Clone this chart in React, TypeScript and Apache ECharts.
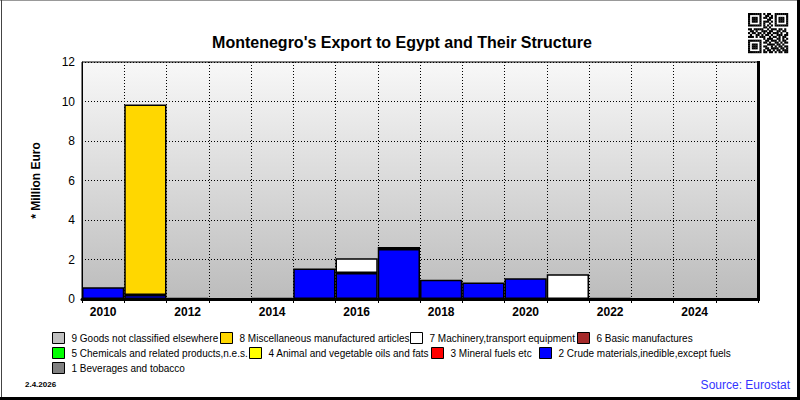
import React, { useEffect, useRef } from "react";
import * as echarts from "echarts";

const years = ["2010", "2011", "2012", "2013", "2014", "2015", "2016", "2017", "2018", "2019", "2020", "2021", "2022", "2023", "2024", "2025"];

// Stack order: bottom (1) to top (9)
const s1 = [0, 0, 0, 0, 0, 0, 0, 0, 0, 0, 0, 0, 0, 0, 0, 0];
const s2 = [0.6, 0.2, 0.06, 0, 0.06, 1.55, 1.32, 2.53, 0.98, 0.83, 1.05, 0, 0.06, 0, 0, 0];
const s3 = [0, 0, 0, 0, 0, 0, 0, 0, 0, 0, 0, 0, 0, 0, 0, 0];
const s4 = [0, 0, 0, 0, 0, 0, 0, 0, 0, 0, 0, 0, 0, 0, 0, 0];
const s5 = [0, 0, 0, 0, 0, 0, 0, 0, 0, 0, 0, 0, 0, 0, 0, 0];
const s6 = [0, 0, 0, 0, 0, 0, 0, 0, 0, 0, 0, 0, 0, 0, 0, 0];
const s7 = [0, 0, 0, 0, 0, 0, 0.74, 0.1, 0, 0, 0, 1.25, 0, 0, 0, 0];
const s8 = [0, 9.65, 0, 0, 0, 0, 0, 0, 0, 0, 0, 0, 0, 0, 0, 0];
const s9 = [0, 0, 0, 0, 0, 0, 0, 0, 0, 0, 0, 0, 0, 0, 0, 0];

const seriesNames = [
  "1 Beverages and tobacco",
  "2 Crude materials,inedible,except fuels",
  "3 Mineral fuels etc",
  "4 Animal and vegetable oils and fats",
  "5 Chemicals and related products,n.e.s.",
  "6 Basic manufactures",
  "7 Machinery,transport equipment",
  "8 Miscellaneous manufactured articles",
  "9 Goods not classified elsewhere",
];
const seriesColors = ["#808080", "#0000ff", "#ff0000", "#ffff00", "#00ff00", "#a52a2a", "#ffffff", "#ffd700", "#c0c0c0"];
const seriesValues = [s1, s2, s3, s4, s5, s6, s7, s8, s9];

const yTicks = { min: 0, max: 12, interval: 2 };

// Legend placement (index into seriesNames, left, top)
const legendLayout: [number, number, number][] = [
  [8, 52, 332], [7, 220, 332], [6, 410, 332], [5, 577, 332],
  [4, 52, 347], [3, 249, 347], [2, 431, 347], [1, 539, 347],
  [0, 52, 362],
];

const qrRows = [
  "111111101011001111111",
  "100000100110101000001",
  "101110101101101011101",
  "101110100011001011101",
  "101110101110101011101",
  "100000101001001000001",
  "111111101010101111111",
  "000000001101000000000",
  "110111110010111011010",
  "011010011101100110110",
  "101101101011011101001",
  "010011010110100111011",
  "111010111001011010110",
  "000000001011100110101",
  "111111100110111010110",
  "100000101101001101011",
  "101110100011110110100",
  "101110101100101011011",
  "101110100110111101101",
  "100000101011010110111",
  "111111101101101011011",
];

const FONT = 'Arial, "Liberation Sans", sans-serif';

export default function App() {
  const ref = useRef<HTMLDivElement>(null);
  useEffect(() => {
    if (!ref.current) return;
    const chart = echarts.init(ref.current, null, { renderer: "svg" });

    const qrEls: any[] = [];
    const mod = 40 / 21;
    qrRows.forEach((row, r) => {
      for (let c = 0; c < row.length; c++) {
        if (row[c] === "1") {
          qrEls.push({
            type: "rect",
            shape: { x: 748 + c * mod, y: 13 + r * mod, width: mod + 0.2, height: mod + 0.2 },
            style: { fill: "#000" },
            silent: true,
          });
        }
      }
    });

    const option: any = {
      animation: false,
      backgroundColor: "#ffffff",
      title: {
        text: "Montenegro's Export to Egypt and Their Structure",
        left: 397,
        textAlign: "center",
        top: 29,
        textStyle: { fontFamily: FONT, fontSize: 16, fontWeight: "bold", color: "#000" },
      },
      grid: {
        left: 82,
        right: 42,
        top: 62,
        bottom: 101,
        show: true,
        borderColor: "#000",
        borderWidth: 1,
        backgroundColor: new echarts.graphic.LinearGradient(0, 0, 0, 1, [
          { offset: 0, color: "#f8f8f8" },
          { offset: 1, color: "#bcbcbc" },
        ]),
      },
      legend: legendLayout.map(([idx, left, top]) => ({
        data: [seriesNames[idx]],
        left,
        top,
        padding: 0,
        itemWidth: 12,
        itemHeight: 11,
        icon: "rect",
        selectedMode: false,
        itemStyle: { borderColor: "#000", borderWidth: 1 },
        textStyle: { fontFamily: FONT, fontSize: 10, color: "#000", padding: [0, 0, 0, 2] },
      })),
      xAxis: {
        type: "category",
        data: years,
        boundaryGap: true,
        axisLine: { show: true, lineStyle: { color: "#000", width: 3 } },
        axisTick: { show: true, interval: 0, length: 4, lineStyle: { color: "#000" } },
        axisLabel: { interval: 1, margin: 7, fontFamily: FONT, fontSize: 12, fontWeight: "bold", color: "#000" },
        splitLine: { show: true, interval: 0, lineStyle: { color: "#000", type: [1, 2], width: 1 } },
      },
      yAxis: {
        type: "value",
        min: yTicks.min,
        max: yTicks.max,
        interval: yTicks.interval,
        name: "* Million Euro",
        nameLocation: "middle",
        nameRotate: 90,
        nameGap: 40,
        nameTextStyle: { fontFamily: FONT, fontSize: 12, fontWeight: "bold", color: "#000" },
        axisLine: { show: true, lineStyle: { color: "#000", width: 1 } },
        axisTick: { show: false },
        axisLabel: { margin: 7, fontFamily: FONT, fontSize: 12, color: "#000" },
        splitLine: { show: true, lineStyle: { color: "#000", type: [1, 2], width: 1 } },
      },
      series: seriesValues.map((vals, i) => ({
        name: seriesNames[i],
        type: "bar",
        stack: "total",
        barCategoryGap: 0,
        data: vals.map((v) => (v === 0 ? null : v)),
        itemStyle: { color: seriesColors[i], borderColor: "#000", borderWidth: 1.5 },
        emphasis: { disabled: true },
      })),
      graphic: [
        // thick right edge of plot
        { type: "rect", shape: { x: 757, y: 61, width: 3, height: 240 }, style: { fill: "#000" }, silent: true, z: 10 },
        // outer frame
        { type: "line", shape: { x1: 0, y1: 0.5, x2: 800, y2: 0.5 }, style: { stroke: "#999", lineWidth: 1 }, silent: true, z: 10 },
        { type: "line", shape: { x1: 1.5, y1: 0, x2: 1.5, y2: 400 }, style: { stroke: "#444", lineWidth: 1 }, silent: true, z: 10 },
        { type: "rect", shape: { x: 797, y: 0, width: 3, height: 400 }, style: { fill: "#000" }, silent: true, z: 10 },
        { type: "rect", shape: { x: 0, y: 397, width: 800, height: 3 }, style: { fill: "#000" }, silent: true, z: 10 },
        {
          type: "text",
          left: 25,
          top: 380,
          style: { text: "2.4.2026", font: `bold 8px ${FONT}`, fill: "#000" },
          silent: true,
        },
        {
          type: "text",
          right: 10,
          top: 379,
          style: { text: "Source: Eurostat", font: `12px ${FONT}`, fill: "#3333ff" },
          silent: true,
        },
        ...qrEls,
      ],
    };
    chart.setOption(option);
    return () => chart.dispose();
  }, []);
  return <div ref={ref} style={{ position: "fixed", left: 0, top: 0, width: 800, height: 400 }} />;
}
